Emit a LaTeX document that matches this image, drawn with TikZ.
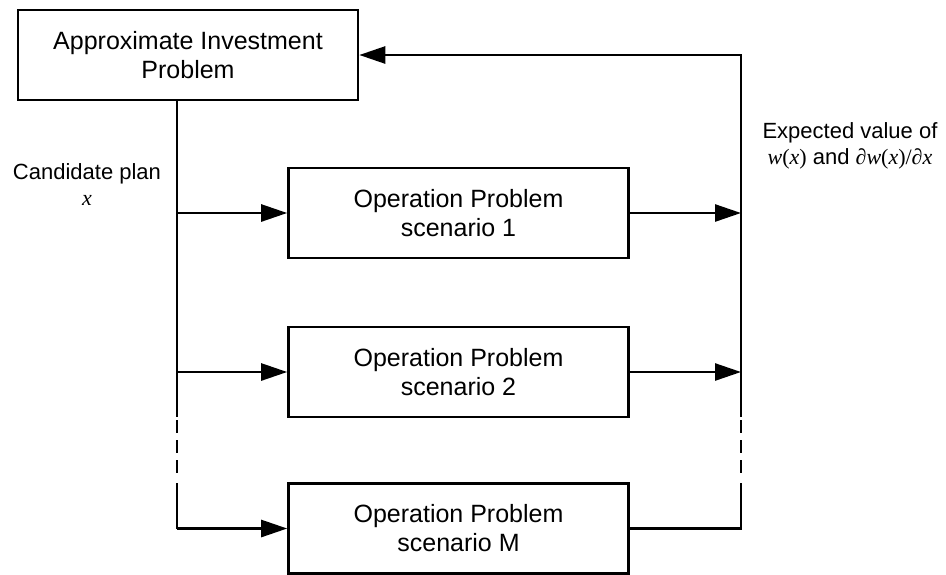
\documentclass[tikz,border=0pt]{standalone}
\usepackage{fontspec}
\setmainfont{Liberation Sans}
\newfontfamily\timesfont{Liberation Serif}
\newcommand{\vr}[1]{{\timesfont\itshape #1}}
\newcommand{\pr}[1]{{\timesfont #1}}
\usetikzlibrary{arrows.meta}

\begin{document}
\begin{tikzpicture}[
        x=0.5pt, y=-0.5pt,
        box/.style = {rectangle, draw=black, line width=1.3pt, minimum width=170pt, minimum height=45pt, inner sep=0pt, align=center, font=\fontsize{12.5}{14.5}\selectfont},
        invest/.style = {box},
        oper/.style = {box},
        tag/.style = {align=center, font=\fontsize{11}{13}\selectfont},
        wire/.style = {line width=1.3pt},
        arrow/.style = {wire, -{Triangle[length=13pt, width=8.5pt]}},
        gapline/.style = {wire, dash pattern=on 6.5pt off 3.5pt}
    ]
    \useasboundingbox (0,0) rectangle (946,574);

    % ================= BOXES =================
    \node[invest] (inv) at (188,55) {Approximate Investment\\Problem};

    \node[oper] (op1) at (458.5,213) {Operation Problem\\scenario 1};
    \node[oper] (op2) at (458.5,372) {Operation Problem\\scenario 2};
    \node[oper] (op3) at (458.5,528.5) {Operation Problem\\scenario M};

    % ================= LABELS =================
    \node[tag] (plan) at (87,185) {Candidate plan\\\vr{x}};
    \node[tag] (expv) at (850,146) {Expected value of\\\vr{w}\pr{(}\vr{x}\pr{)} and \pr{∂}\vr{w}\pr{(}\vr{x}\pr{)/∂}\vr{x}};

    % ================= LEFT BUS (candidate plan) =================
    \coordinate (l1) at (177,213);
    \coordinate (l2) at (177,372);
    \coordinate (lbrk) at (177,417);
    \coordinate (ldash1) at (177,420);
    \coordinate (ldash2) at (177,473);
    \coordinate (lres) at (177,483);
    \coordinate (l3) at (177,528.5);

    \draw[wire] (inv.south -| l1) -- (lbrk);
    \draw[gapline] (ldash1) -- (ldash2);
    \draw[wire] (lres) -- (l3);

    \draw[arrow] (l1) -- (op1.west);
    \draw[arrow] (l2) -- (op2.west);
    \draw[arrow] (l3) -- (op3.west);

    % ================= RIGHT BUS (feedback) =================
    \coordinate (r0) at (741,55);
    \coordinate (r1) at (741,213);
    \coordinate (r2) at (741,372);
    \coordinate (rbrk) at (741,417);
    \coordinate (rdash1) at (741,420);
    \coordinate (rdash2) at (741,473);
    \coordinate (rres) at (741,483);
    \coordinate (r3) at (741,528.5);

    \draw[arrow] (op1.east) -- (r1);
    \draw[arrow] (op2.east) -- (r2);
    \draw[wire] (op3.east) -- (r3) -- (rres);
    \draw[gapline] (rdash1) -- (rdash2);
    \draw[arrow] (rbrk) -- (r0) -- (inv.east);

\end{tikzpicture}
\end{document}
